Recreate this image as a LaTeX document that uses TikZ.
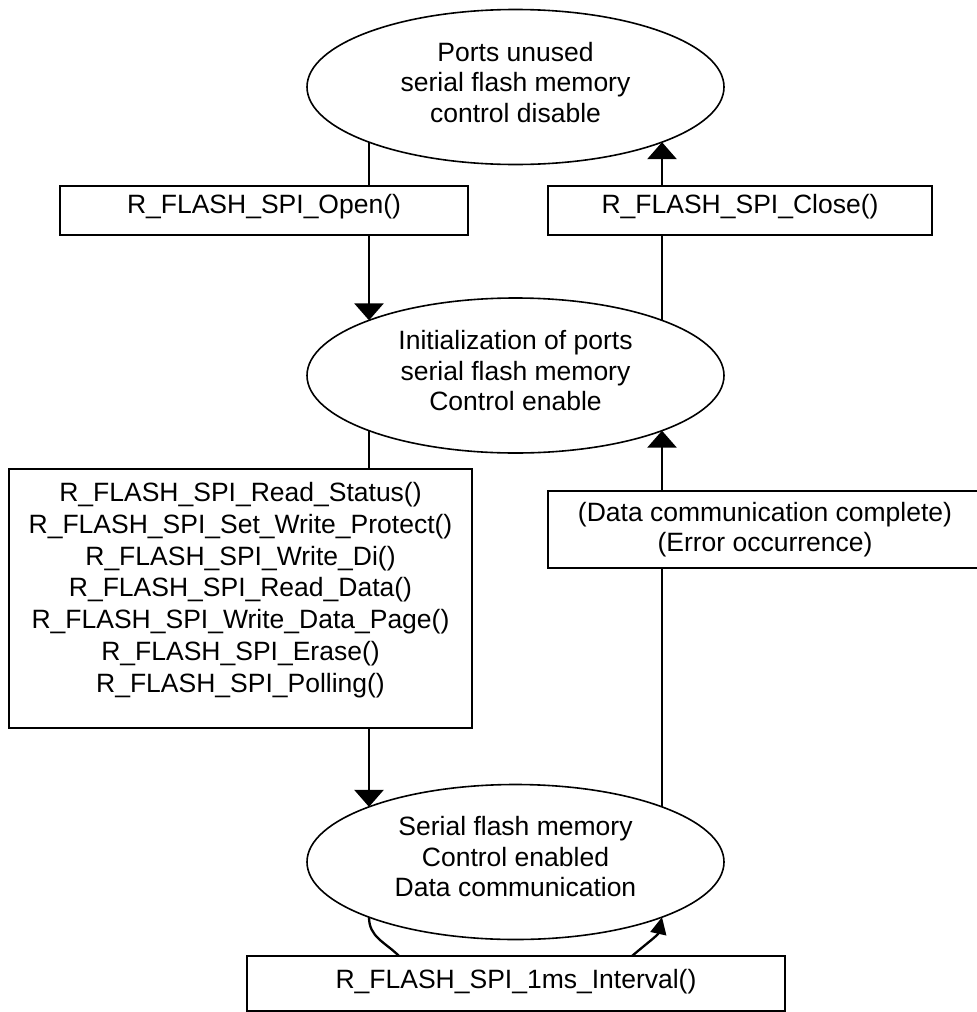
\documentclass[tikz,border=0pt]{standalone}
\usepackage{fontspec}
\setmainfont{Liberation Sans}
\usetikzlibrary{arrows.meta,shapes.geometric,calc}
\begin{document}
\begin{tikzpicture}[x=1pt,y=-1pt,
  every node/.style={font=\fontsize{26.5}{30.5}\selectfont, align=center},
  state/.style={draw, ellipse, line width=1.6pt, minimum width=417pt, minimum height=155pt, inner sep=0pt, outer sep=0pt},
  stext/.style={inner sep=0pt},
  fbox/.style={draw, rectangle, line width=2pt, inner sep=0pt, outer sep=0pt, fill=white},
  conn/.style={line width=2.8pt},
  arr/.style={conn, -{Triangle[width=29pt,length=17pt]}},
  loopconn/.style={line width=2.3pt},
]
\useasboundingbox (0,0) rectangle (977,1012);
\clip (0,0) rectangle (977,1012);

\node[state] (e1) at (515.5,87) {};
\node[stext] (e1t) at ($(e1.center)+(0,-4.5)$) {Ports unused\\serial flash memory\\control disable};
\node[state] (e2) at (515.5,375.5) {};
\node[stext] (e2t) at ($(e2.center)+(0,-4.5)$) {Initialization of ports\\serial flash memory\\Control enable};
\node[state] (e3) at (515.5,862) {};
\node[stext] (e3t) at ($(e3.center)+(0,-5)$) {Serial flash memory\\Control enabled\\Data communication};

\node[fbox, minimum width=408pt, minimum height=49pt, text depth=12.5pt] (open) at (264,210.5) {R\_FLASH\_SPI\_Open()};
\node[fbox, minimum width=384pt, minimum height=49pt, text depth=12.5pt] (close) at (740,210.5) {R\_FLASH\_SPI\_Close()};
\node[fbox, minimum width=463pt, minimum height=259pt] (api) at (240.5,598.5) {};
\node[anchor=north, inner sep=0pt, font=\fontsize{26.5}{31.8}\selectfont] (apitext) at (240.5,482) {R\_FLASH\_SPI\_Read\_Status()\\R\_FLASH\_SPI\_Set\_Write\_Protect()\\R\_FLASH\_SPI\_Write\_Di()\\R\_FLASH\_SPI\_Read\_Data()\\R\_FLASH\_SPI\_Write\_Data\_Page()\\R\_FLASH\_SPI\_Erase()\\R\_FLASH\_SPI\_Polling()};
\node[fbox, minimum width=434pt, minimum height=77pt] (done) at (765,529.5) {(Data communication complete)\\(Error occurrence)};
\node[fbox, minimum width=538pt, minimum height=55pt, text depth=9.3pt] (tick) at (516,983.5) {R\_FLASH\_SPI\_1ms\_Interval()};

% points where the vertical connectors meet the ellipses
\coordinate (e1ll) at ($(e1.center)+(-146.5,55.15)$);
\coordinate (e1lr) at ($(e1.center)+(146.5,55.15)$);
\coordinate (e2ul) at ($(e2.center)+(-146.5,-55.15)$);
\coordinate (e2ur) at ($(e2.center)+(146.5,-55.15)$);
\coordinate (e2ll) at ($(e2.center)+(-146.5,55.15)$);
\coordinate (e2lr) at ($(e2.center)+(146.5,55.15)$);
\coordinate (e3ul) at ($(e3.center)+(-146.5,-55.15)$);
\coordinate (e3ur) at ($(e3.center)+(146.5,-55.15)$);
\coordinate (e3ll) at ($(e3.center)+(-146.5,55.15)$);
\coordinate (e3lr) at ($(e3.center)+(146.5,55.15)$);

\draw[conn] (e1ll) -- (e1ll |- open.north);
\draw[arr] (open.south -| e1ll) -- (e2ul);
\draw[conn] (e2ll) -- (e2ll |- api.north);
\draw[arr] (api.south -| e2ll) -- (e3ul);
\draw[conn] (e3ur) -- (e3ur |- done.south);
\draw[arr] (done.north -| e3ur) -- (e2lr);
\draw[conn] (e2ur) -- (e2ur |- close.south);
\draw[arr] (close.north -| e2ur) -- (e1lr);

\draw[loopconn] (e3ll) .. controls +(0,20) and +(-14,-14) .. ($(tick.north west)+(152,0)$);
\draw[loopconn, -{Triangle[width=16pt,length=17pt]}] ($(tick.north east)+(-153,0)$) .. controls +(14,-12) and +(-4,18) .. (e3lr);
\end{tikzpicture}
\end{document}
